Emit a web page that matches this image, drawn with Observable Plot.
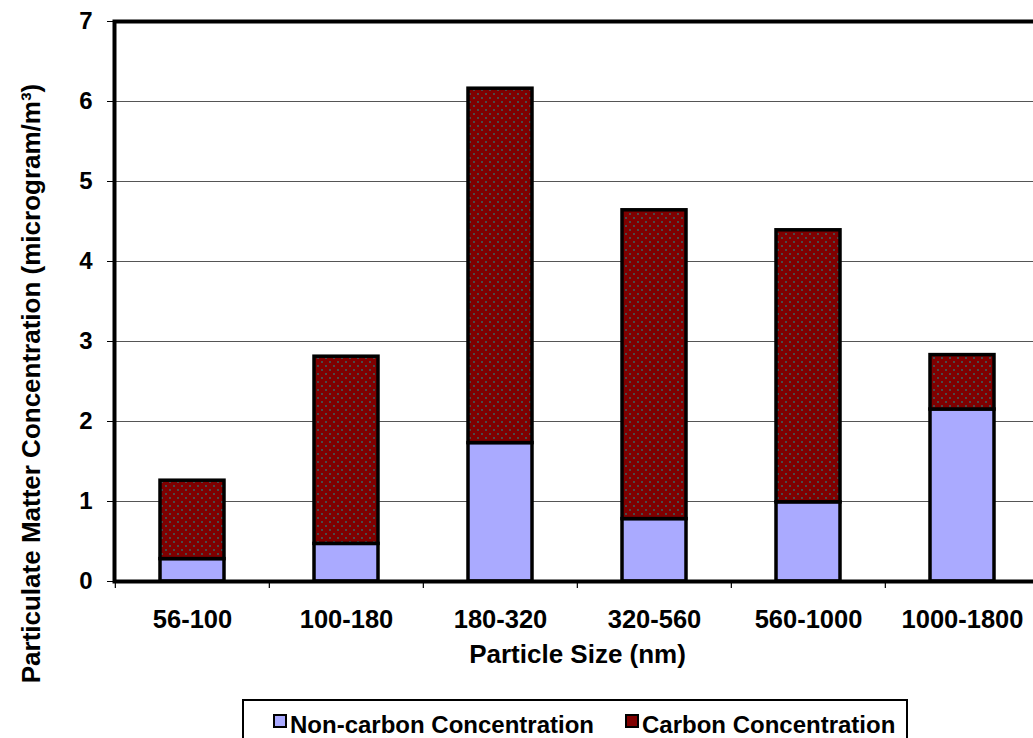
<!DOCTYPE html>
<html>
<head>
<meta charset="utf-8">
<script src="https://cdn.jsdelivr.net/npm/d3@7"></script>
<script src="https://cdn.jsdelivr.net/npm/@observablehq/plot@0.6"></script>
<style>
  html, body { margin: 0; padding: 0; background: white; overflow: hidden; }
  #wrap { position: relative; width: 1045px; height: 738px; }
  #legend {
    position: absolute; left: 242px; top: 699px; width: 666px; height: 60px;
    border: 2px solid black; box-sizing: border-box;
    font-family: "Liberation Sans", Arial, sans-serif; font-weight: bold; font-size: 24px;
    line-height: 28px; display: flex; padding: 10px 0 0 29px;
  }
  .item { display: flex; align-items: flex-start; }
  .sw { width: 14px; height: 14px; box-sizing: border-box; border: 2px solid black; margin: 3px 3px 0 0; }
</style>
</head>
<body>
<div id="wrap">
  <div id="chart"></div>
  <div id="legend"></div>
</div>
<script>
const categories = ["56-100", "100-180", "180-320", "320-560", "560-1000", "1000-1800"];
const nonCarbon = [0.28, 0.47, 1.73, 0.78, 0.99, 2.15];
const carbon = [0.98, 2.34, 4.43, 3.86, 3.40, 0.68];
const seriesNames = ["Non-carbon Concentration", "Carbon Concentration"];
const seriesColors = ["#aaaaff", "url(#dots)"];
const yTicks = [0, 1, 2, 3, 4, 5, 6, 7];
const gridTicks = [1, 2, 3, 4, 5, 6];
const xTitle = "Particle Size (nm)";
const yTitle = "Particulate Matter Concentration (microgram/m³)";

const rows = categories.flatMap((c, i) => [
  {size: c, series: seriesNames[0], value: nonCarbon[i]},
  {size: c, series: seriesNames[1], value: carbon[i]}
]);

const W = 1045, H = 690, mL = 114, mR = 5, mT = 21, mB = 109;
const step = (W - mL - mR) / categories.length;
const frameH = H - mT - mB;

const defs = () => {
  const d = d3.create("svg:defs");
  const p = d.append("pattern").attr("id", "dots").attr("width", 8).attr("height", 8)
    .attr("patternUnits", "userSpaceOnUse");
  p.append("rect").attr("width", 8).attr("height", 8).attr("fill", "#7f0000");
  p.append("rect").attr("x", 1).attr("y", 1).attr("width", 2).attr("height", 2).attr("fill", "#4a4a4a");
  p.append("rect").attr("x", 5).attr("y", 5).attr("width", 2).attr("height", 2).attr("fill", "#4a4a4a");
  return d.node();
};

const chart = Plot.plot({
  width: W, height: H,
  marginLeft: mL, marginRight: mR, marginTop: mT, marginBottom: mB,
  style: {fontFamily: "'Liberation Sans', Arial, sans-serif", fontSize: "24px", fontWeight: "bold", color: "black", background: "white", maxWidth: "none", overflow: "visible"},
  x: {domain: categories, paddingInner: 0.587, paddingOuter: 0.2935, label: null},
  y: {domain: [0, 7], label: null},
  color: {domain: seriesNames, range: seriesColors},
  marks: [
    defs,
    Plot.ruleY(gridTicks, {stroke: "#555", strokeWidth: 1}),
    Plot.barY(rows, {x: "size", y: "value", fill: "series", stroke: "black", strokeWidth: 3.5}),
    Plot.axisY(yTicks, {tickSize: 7, tickPadding: 15, label: null, tickFormat: d3.format("d"), fontSize: 24, fontWeight: "bold"}),
    Plot.axisX({tickSize: 0, tickPadding: 28, label: null, fontSize: 25.5, fontWeight: "bold"}),
    Plot.ruleX(categories, {x: d => d, dx: -step / 2, insetTop: frameH, insetBottom: -7, stroke: "black", strokeWidth: 1.2}),
    Plot.frame({stroke: "black", strokeWidth: 4}),
    Plot.text([xTitle], {frameAnchor: "bottom", dy: 73, lineAnchor: "middle", fontSize: 26, fontWeight: "bold"}),
    Plot.text([yTitle], {frameAnchor: "left", rotate: -90, dx: -83, dy: 82, lineAnchor: "middle", textAnchor: "middle", fontSize: 26, fontWeight: "bold"})
  ]
});
document.getElementById("chart").appendChild(chart);

const legend = document.getElementById("legend");
seriesNames.forEach((name, i) => {
  const item = document.createElement("div");
  item.className = "item";
  if (i > 0) item.style.marginLeft = "31px";
  const sw = document.createElement("div");
  sw.className = "sw";
  sw.style.background = i === 0 ? seriesColors[0] : "#7f0000";
  const t = document.createElement("span");
  t.textContent = name;
  item.appendChild(sw);
  item.appendChild(t);
  legend.appendChild(item);
});
</script>
</body>
</html>
